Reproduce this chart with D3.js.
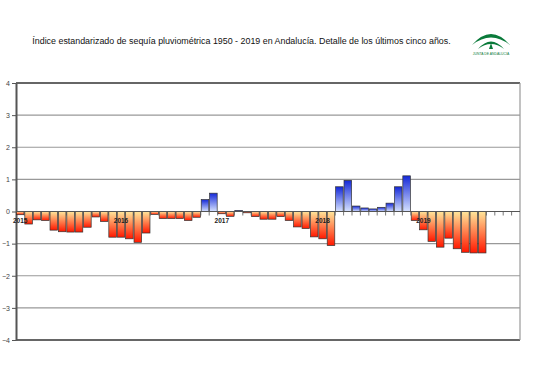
<!DOCTYPE html>
<html><head><meta charset="utf-8">
<script src="https://cdn.jsdelivr.net/npm/d3@7"></script>
<style>body{margin:0;background:#fff}svg{display:block}</style>
</head><body><svg id="c" width="536" height="379"></svg>
<script>
const years = ["2015","2016","2017","2018","2019"];
const months = d3.range(60).map(i => years[Math.floor(i/12)] + "-" + String(i%12+1).padStart(2,"0"));
const values = [
 -0.10,-0.39,-0.26,-0.28,-0.58,-0.63,-0.64,-0.64,-0.49,-0.17,-0.31,-0.80,
 -0.80,-0.85,-0.96,-0.67,-0.09,-0.22,-0.22,-0.22,-0.28,-0.18,0.37,0.57,
 -0.07,-0.15,0.03,-0.04,-0.16,-0.24,-0.24,-0.16,-0.28,-0.48,-0.53,-0.79,
 -0.85,-1.06,0.77,0.97,0.17,0.11,0.08,0.13,0.26,0.77,1.11,-0.28,
 -0.57,-0.93,-1.11,-0.83,-1.16,-1.27,-1.29,-1.29,null,null,null,null
];
const yTicks = [4,3,2,1,0,-1,-2,-3,-4];
const title = "Índice estandarizado de sequía pluviométrica 1950 - 2019 en Andalucía. Detalle de los últimos cinco años.";

const svg = d3.select("#c");
const L = 16, R = 520, T = 83, B = 340;
const x = d3.scaleBand().domain(months).range([L, R]).paddingInner(0.1).paddingOuter(0.05);
const xb = d3.scaleBand().domain(months).range([L, R]);
const y = d3.scaleLinear().domain([-4, 4]).range([B, T]);

const defs = svg.append("defs");
const gN = defs.append("linearGradient").attr("id","gn").attr("x1",0).attr("y1",0).attr("x2",0).attr("y2",1);
gN.append("stop").attr("offset","0%").attr("stop-color","#ffe69a");
gN.append("stop").attr("offset","100%").attr("stop-color","#ff1800");
const gP = defs.append("linearGradient").attr("id","gp").attr("x1",0).attr("y1",0).attr("x2",0).attr("y2",1);
gP.append("stop").attr("offset","0%").attr("stop-color","#1428d8");
gP.append("stop").attr("offset","100%").attr("stop-color","#d6e2ff");

// title
svg.append("text").attr("x", 241.5).attr("y", 44).attr("text-anchor","middle")
  .attr("font-family","Liberation Sans, Arial, sans-serif").attr("font-size", 8.9).attr("fill","#111").text(title);

// logo
const lg = svg.append("g").attr("transform","translate(491,47)");
lg.append("path").attr("d","M-19,-2 Q0,-24 19,-2 Q0,-17 -19,-2Z").attr("fill","#0a7a3a");
lg.append("path").attr("d","M-13,2 Q0,-13 13,2 Q0,-8 -13,2Z").attr("fill","#0a7a3a");
lg.append("path").attr("d","M0,-4 L2,2 L-2,2Z").attr("fill","#0a7a3a");
lg.append("text").attr("x",0).attr("y",8).attr("text-anchor","middle").attr("font-size",3.4)
  .attr("font-family","Liberation Sans, Arial, sans-serif").attr("fill","#0a7a3a").text("JUNTA DE ANDALUCIA");

// grid
svg.append("g").selectAll("line").data(yTicks).join("line")
  .attr("x1", L).attr("x2", R).attr("y1", d => y(d)).attr("y2", d => y(d))
  .attr("stroke", d => (d===4||d===-4) ? "#666" : "#999")
  .attr("stroke-width", d => (d===4||d===-4) ? 2 : 1.2);
svg.append("line").attr("x1",R).attr("x2",R).attr("y1",T).attr("y2",B).attr("stroke","#999").attr("stroke-width",1.2);

// y axis
const ya = svg.append("g").attr("transform",`translate(${L},0)`)
  .call(d3.axisLeft(y).tickValues(yTicks).tickSize(4).tickSizeOuter(0).tickFormat(d3.format("d")));
ya.select(".domain").attr("stroke","#555").attr("stroke-width",2);
ya.selectAll(".tick line").attr("stroke","#555");
ya.selectAll(".tick text").attr("font-family","Liberation Sans, Arial, sans-serif").attr("font-size",7).attr("fill","#444").attr("x",-6);

// bars
const data = months.map((m,i) => ({m, v: values[i]})).filter(d => d.v !== null);
svg.append("g").selectAll("rect").data(data).join("rect")
  .attr("x", d => x(d.m)).attr("width", x.bandwidth())
  .attr("y", d => y(Math.max(0, d.v))).attr("height", d => Math.max(0.6, Math.abs(y(d.v) - y(0))))
  .attr("fill", d => d.v >= 0 ? "url(#gp)" : "url(#gn)")
  .attr("stroke", "#333").attr("stroke-width", 0.7);

// x axis (zero line with ticks at category boundaries)
svg.append("line").attr("x1",L).attr("x2",R).attr("y1",y(0)).attr("y2",y(0)).attr("stroke","#555").attr("stroke-width",1.2);
svg.append("g").selectAll("line").data(months.slice(1)).join("line")
  .attr("x1", d => xb(d)).attr("x2", d => xb(d)).attr("y1", y(0)).attr("y2", y(0)+4)
  .attr("stroke","#555").attr("stroke-width",0.8);

// year labels
svg.append("g").selectAll("text").data(years).join("text")
  .attr("x", d => xb(d+"-01") + xb.bandwidth()/2).attr("y", y(0)+11)
  .attr("text-anchor","middle").attr("font-family","Liberation Sans, Arial, sans-serif")
  .attr("font-size",6.5).attr("font-weight","bold").attr("fill","#222").text(d => d);
</script></body></html>
